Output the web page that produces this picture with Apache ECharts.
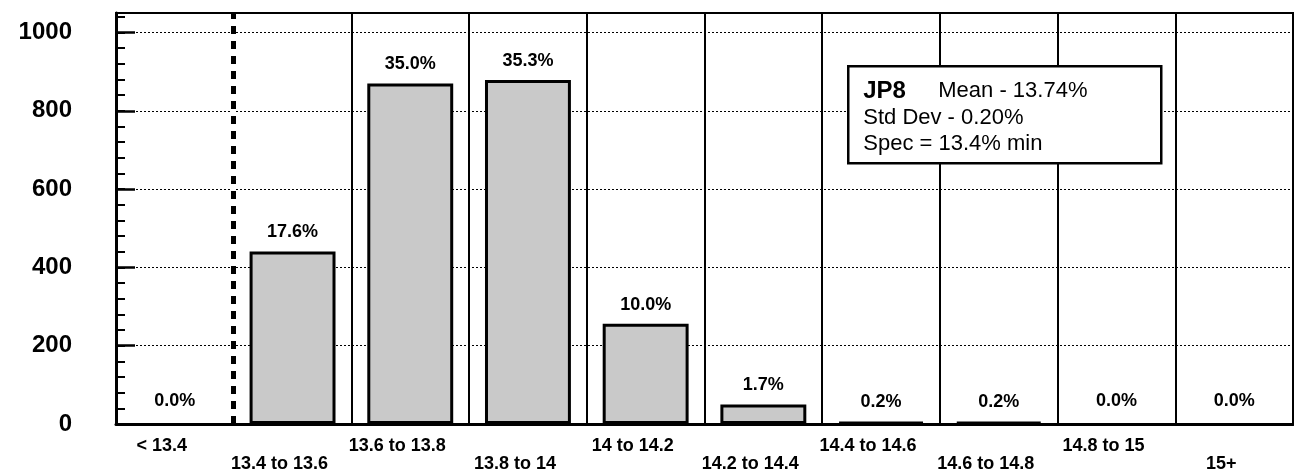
<!DOCTYPE html>
<html>
<head>
<meta charset="utf-8">
<script src="https://cdn.jsdelivr.net/npm/echarts@6/dist/echarts.min.js"></script>
<style>
html,body{margin:0;padding:0;background:#fff;}
#chart{width:1294px;height:475px;}
</style>
</head>
<body>
<div id="chart"></div>
<script>
// ---- data ----
const categories = ['< 13.4', '13.4 to 13.6', '13.6 to 13.8', '13.8 to 14', '14 to 14.2', '14.2 to 14.4', '14.4 to 14.6', '14.6 to 14.8', '14.8 to 15', '15+'];
const counts = [0, 441, 870, 879, 256, 50, 5, 5, 0, 0];
const percents = [0.0, 17.6, 35.0, 35.3, 10.0, 1.7, 0.2, 0.2, 0.0, 0.0];
const yTicks = [0, 200, 400, 600, 800, 1000];
const specBoundary = 1; // boundary between '< 13.4' and '13.4 to 13.6'
const boxTitle = 'JP8';
const boxLines = ['Mean - 13.74%', 'Std Dev - 0.20%', 'Spec = 13.4% min'];

const FONT = '"Liberation Sans", Arial, Helvetica, sans-serif';
const chart = echarts.init(document.getElementById('chart'), null, {renderer: 'canvas'});

const barData = counts.map(function (v) {
  return v === 0
    ? {value: v, itemStyle: {borderWidth: 0, color: 'transparent'}, label: {distance: 14}}
    : {value: v};
});

const option = {
  backgroundColor: '#fff',
  animation: false,
  grid: {left: 116, right: 1, top: 13, bottom: 51, show: true, borderColor: '#000', borderWidth: 2, backgroundColor: 'transparent'},
  xAxis: [
    {
      type: 'category',
      data: categories,
      boundaryGap: true,
      axisLine: {show: true, lineStyle: {color: '#000', width: 3}},
      axisTick: {show: false},
      splitLine: {show: true, interval: 0, lineStyle: {color: '#000', width: 2, type: 'solid'}},
      axisLabel: {
        interval: 0,
        margin: 13,
        color: '#000',
        fontFamily: FONT,
        fontWeight: 'bold',
        fontSize: 18,
        lineHeight: 18,
        padding: [0, 26, 0, 0],
        formatter: function (v, i) { return (i % 2 === 1) ? '\n' + v : v; }
      }
    },
    {
      type: 'value', min: 0, max: categories.length, show: false
    }
  ],
  yAxis: [
    {
      type: 'value',
      min: 0,
      max: 1050,
      interval: 200,
      axisLine: {show: true, lineStyle: {color: '#000', width: 3}},
      axisTick: {show: true, inside: true, length: 19, lineStyle: {color: '#000', width: 2.5}},
      splitLine: {show: true, lineStyle: {color: '#000', width: 1, type: [2, 2]}},
      axisLabel: {
        showMaxLabel: false,
        margin: 44,
        color: '#000',
        fontFamily: FONT,
        fontWeight: 'bold',
        fontSize: 24,
        formatter: function (v) { return yTicks.indexOf(v) >= 0 ? String(v) : ''; }
      }
    },
    {
      type: 'value',
      min: 0,
      max: 1050,
      interval: 40,
      position: 'left',
      axisLine: {show: false},
      axisTick: {show: true, inside: true, length: 9, lineStyle: {color: '#000', width: 2}},
      splitLine: {show: false},
      axisLabel: {show: false}
    }
  ],
  series: [
    {
      type: 'bar',
      xAxisIndex: 0,
      yAxisIndex: 0,
      data: barData,
      barWidth: '73%',
      itemStyle: {color: '#c9c9c9', borderColor: '#000', borderWidth: 3},
      label: {
        show: true,
        position: 'top',
        distance: 10,
        color: '#000',
        fontFamily: FONT,
        fontWeight: 'bold',
        fontSize: 18,
        formatter: function (p) { return percents[p.dataIndex].toFixed(1) + '%'; }
      },
      silent: true
    },
    {
      type: 'line',
      xAxisIndex: 1,
      yAxisIndex: 0,
      data: [],
      silent: true,
      markLine: {
        silent: true,
        symbol: ['none', 'none'],
        label: {show: false},
        data: [
          {xAxis: specBoundary, lineStyle: {color: '#fff', width: 4, type: 'solid'}},
          {xAxis: specBoundary, lineStyle: {color: '#000', width: 5, type: [8, 7]}}
        ]
      }
    }
  ],
  graphic: [
    {
      type: 'group',
      left: 847,
      top: 65,
      z: 100,
      children: [
        {type: 'rect', shape: {x: 0, y: 0, width: 313, height: 97}, style: {fill: '#fff', stroke: '#000', lineWidth: 2.5}, z: 100},
        {type: 'text', x: 15, y: 25, z: 101, style: {text: boxTitle, fill: '#000', font: 'bold 24px ' + FONT, textVerticalAlign: 'middle'}},
        {type: 'text', x: 90, y: 25, z: 101, style: {text: boxLines[0], fill: '#000', font: '22px ' + FONT, textVerticalAlign: 'middle'}},
        {type: 'text', x: 15, y: 52, z: 101, style: {text: boxLines[1], fill: '#000', font: '22px ' + FONT, textVerticalAlign: 'middle'}},
        {type: 'text', x: 15, y: 78, z: 101, style: {text: boxLines[2], fill: '#000', font: '22px ' + FONT, textVerticalAlign: 'middle'}}
      ]
    }
  ]
};
chart.setOption(option);
</script>
</body>
</html>
